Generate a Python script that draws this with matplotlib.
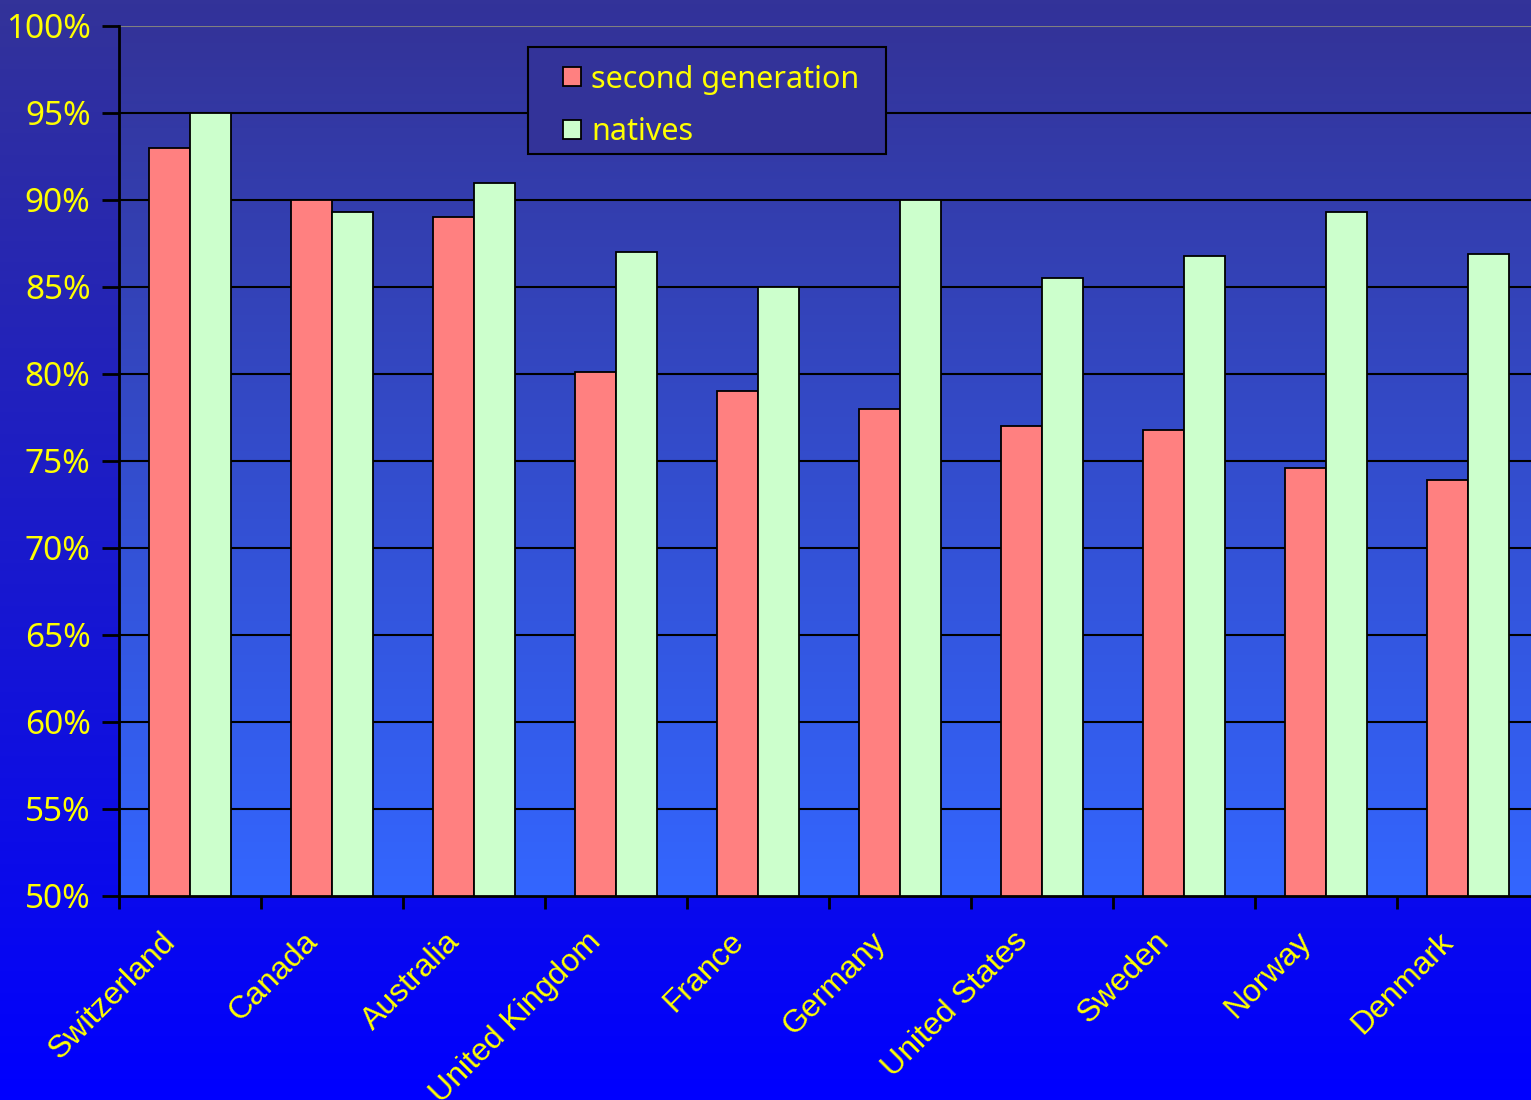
import numpy as np
import matplotlib
matplotlib.use("Agg")
import matplotlib.pyplot as plt
from matplotlib.patches import Patch, Rectangle
from matplotlib.transforms import offset_copy, blended_transform_factory

countries = ["Switzerland", "Canada", "Australia", "United Kingdom", "France",
             "Germany", "United States", "Sweden", "Norway", "Denmark"]
second_generation = [93.0, 90.0, 89.0, 80.1, 79.0, 78.0, 77.0, 76.8, 74.6, 73.9]
natives = [95.0, 89.3, 91.0, 87.0, 85.0, 90.0, 85.5, 86.8, 89.3, 86.9]
y_ticks = [50, 55, 60, 65, 70, 75, 80, 85, 90, 95, 100]

W, H = 1531, 1100
fig = plt.figure(figsize=(W / 100, H / 100), dpi=100)

# Figure background gradient
bg = fig.add_axes([0, 0, 1, 1], zorder=-10)
t = np.linspace(0, 1, 256)[:, None]
top = np.array([51, 51, 153]) / 255
bot = np.array([0, 0, 255]) / 255
grad = top[None, None, :] * (1 - t[..., None]) + bot[None, None, :] * t[..., None]
grad = np.repeat(grad, 2, axis=1)
bg.imshow(grad, aspect="auto", extent=[0, 1, 0, 1], origin="upper")
bg.set_xlim(0, 1)
bg.set_ylim(0, 1)
bg.set_axis_off()

left_px, right_px, top_px, bottom_px = 119, 1539, 26, 896
ax = fig.add_axes([left_px / W, 1 - bottom_px / H,
                   (right_px - left_px) / W, (bottom_px - top_px) / H])
ax.patch.set_alpha(0)

n = len(countries)
x = np.arange(n)
ax.set_xlim(-0.5, n - 0.5)
ax.set_ylim(50, 100)

# plot area gradient
ptop = np.array([51, 51, 153]) / 255
pbot = np.array([51, 102, 255]) / 255
pg = ptop[None, None, :] * (1 - t[..., None]) + pbot[None, None, :] * t[..., None]
pg = np.repeat(pg, 2, axis=1)
ax.imshow(pg, aspect="auto", extent=[-0.5, n - 0.5, 50, 100], origin="upper", zorder=0)

# gridlines
for v in y_ticks[1:-1]:
    ax.axhline(v, color="black", lw=1.5, zorder=1)
ax.axhline(100, color="#808080", lw=1.5, zorder=1)

bw = 0.292
ax.bar(x - bw / 2, second_generation, width=bw, bottom=0, color="#ff8080",
       edgecolor="black", linewidth=1.3, zorder=2, label="second generation")
ax.bar(x + bw / 2, natives, width=bw, bottom=0, color="#ccffcc",
       edgecolor="black", linewidth=1.3, zorder=2, label="natives")

for s in ["top", "right"]:
    ax.spines[s].set_visible(False)
for s in ["left", "bottom"]:
    ax.spines[s].set_color("black")
    ax.spines[s].set_linewidth(2)
    ax.spines[s].set_zorder(3)

ax.set_yticks(y_ticks)
ax.set_yticklabels([f"{v}%" for v in y_ticks], color="#ffff00",
                   fontsize=24, family="Noto Sans")
ax.tick_params(axis="y", length=12, width=2, color="black", pad=8.5)

ax.set_xticks(np.arange(-0.5, n, 1.0))
ax.set_xticklabels([])
ax.tick_params(axis="x", which="major", length=9, width=2, color="black")

lab_tr = offset_copy(blended_transform_factory(ax.transData, ax.transAxes),
                     fig=fig, x=-19, y=-41, units="dots")
for i, name in enumerate(countries):
    ax.text(i, 0, name, transform=lab_tr, rotation=45, ha="right", va="center",
            rotation_mode="anchor", color="#ffff00", fontsize=23,
            family="Liberation Sans", clip_on=False)

# legend frame
fig.patches.append(Rectangle((528 / W, 1 - 154 / H), (886 - 528) / W, (154 - 47) / H,
                             transform=fig.transFigure, facecolor="#333399",
                             edgecolor="black", linewidth=1.5, zorder=4))
handles = [Patch(facecolor="#ff8080", edgecolor="black", linewidth=1.3),
           Patch(facecolor="#ccffcc", edgecolor="black", linewidth=1.3)]
leg = fig.legend(handles, ["second generation", "natives"],
                 loc="center left",
                 bbox_to_anchor=(563 / W, 1 - 106 / H),
                 frameon=False, prop={"family": "Noto Sans", "size": 22},
                 handlelength=0.6, handleheight=0.6, handletextpad=0.33,
                 labelspacing=0.75, borderpad=0, borderaxespad=0)
for txt in leg.get_texts():
    txt.set_color("#ffff00")
leg.set_zorder(5)

fig.savefig("out.png", dpi=100)
